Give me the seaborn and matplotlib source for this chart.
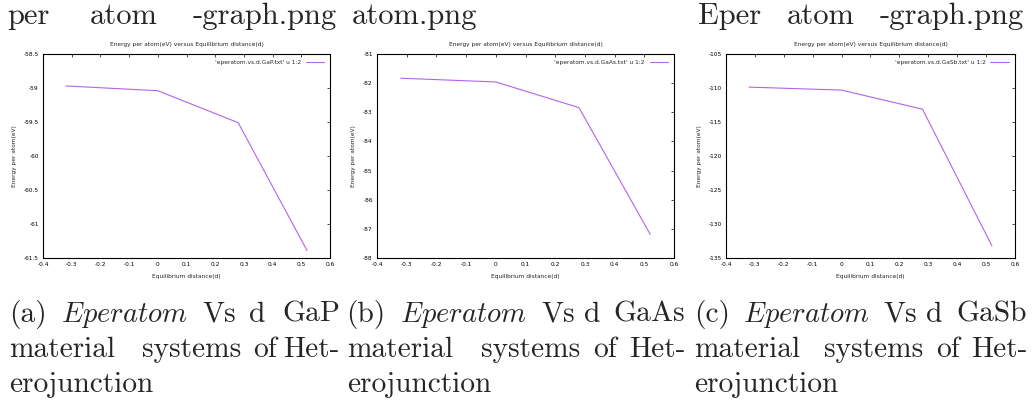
import numpy as np
import pandas as pd
import matplotlib
matplotlib.use("Agg")
import matplotlib.pyplot as plt
import seaborn as sns

# ---- data ----
distance_d = [-0.32, 0.0, 0.28, 0.52]
energy_gap = [-58.97, -59.04, -59.51, -61.39]
energy_gaas = [-81.83, -81.96, -82.84, -87.19]
energy_gasb = [-109.87, -110.31, -113.12, -133.2]
materials = ["GaP", "GaAs", "GaSb"]
panel_letters = ["a", "b", "c"]
x_ticks = [-0.4, -0.3, -0.2, -0.1, 0.0, 0.1, 0.2, 0.3, 0.4, 0.5, 0.6]
y_ticks_gap = [-61.5, -61, -60.5, -60, -59.5, -59, -58.5]
y_ticks_gaas = [-88, -87, -86, -85, -84, -83, -82, -81]
y_ticks_gasb = [-135, -130, -125, -120, -115, -110, -105]

sns.set_style("white")
plt.rcParams["font.family"] = ["DejaVu Sans"]
plt.rcParams["axes.unicode_minus"] = False
plt.rcParams["mathtext.fontset"] = "cm"

W, H = 1035, 405
fig = plt.figure(figsize=(W / 100, H / 100), dpi=100)

energies = [energy_gap, energy_gaas, energy_gasb]
yticks_all = [y_ticks_gap, y_ticks_gaas, y_ticks_gasb]
# axes boxes in pixels: left, right, top, bottom
boxes = [(43, 330, 54, 258), (377, 674, 54, 258), (726, 1015, 54, 258)]

FS = 4.2
for mat, en, yt, (l, r, t, b) in zip(materials, energies, yticks_all, boxes):
    ax = fig.add_axes([l / W, 1 - b / H, (r - l) / W, (b - t) / H])
    df = pd.DataFrame({"d": distance_d, "E": en})
    sns.lineplot(data=df, x="d", y="E", ax=ax, color="#b264ea", lw=0.8,
                 label=f"'eperatom.vs.d.{mat}.txt' u 1:2")
    ax.set_xlim(-0.4, 0.6)
    ax.set_ylim(yt[0], yt[-1])
    ax.set_xticks(x_ticks)
    ax.set_yticks(yt)
    ax.set_xticklabels([f"{v:g}" for v in x_ticks])
    ax.set_yticklabels([f"{v:g}" for v in yt])
    ax.tick_params(direction="in", length=2.5, width=0.5, top=True, right=True,
                   labelsize=FS, pad=3, colors="black")
    for s in ax.spines.values():
        s.set_linewidth(0.8)
        s.set_color("black")
    ax.set_title("Energy per atom(eV) versus Equilibrium distance(d)", fontsize=FS, pad=6)
    ax.set_xlabel("Equilibrium distance(d)", fontsize=FS, labelpad=5)
    ax.set_ylabel("Energy per atom(eV)", fontsize=FS, labelpad=5)
    ax.legend(loc="upper right", frameon=False, markerfirst=False, fontsize=FS,
              handlelength=3.2, borderaxespad=0.6, handletextpad=0.8)

# ---- LaTeX-like text around the figures ----
serif = "cmr10"
TOP = 22
TS = 21.2
MS = 20.5


def put(word, x, y, size=TS, ha="left"):
    fig.text(x / W, 1 - y / H, word, fontfamily=serif, fontsize=size,
             ha=ha, va="baseline")


top_words = [("per", 7), ("atom", 90), ("-graph.png", 193),
             ("atom.png", 352),
             ("Eper", 698), ("atom", 787), ("-graph.png", 880)]
for w, x in top_words:
    put(w, x, 24, TOP)

# caption word anchors (px): first word left edge, middle words centres, last word right edge
line1_x = [(9, 124, 219, 257.5, 340), (346, 463, 558, 592.5, 685), (694, 806, 900, 934, 1027)]
line2_x = [(9, 192, 265, 340), (347, 531, 605, 685), (694, 874, 948, 1027)]
for letter, mat, xs1, xs2 in zip(panel_letters, materials, line1_x, line2_x):
    words1 = [f"({letter})", "$Eperatom$", "Vs", "d", mat]
    n1 = len(words1)
    for i, (w, x) in enumerate(zip(words1, xs1)):
        ha = "left" if i == 0 else ("right" if i == n1 - 1 else "center")
        put(w, x, 322, MS if w.startswith("$") else TS, ha)
    words2 = ["material", "systems", "of", "Het-"]
    for i, (w, x) in enumerate(zip(words2, xs2)):
        ha = "left" if i == 0 else ("right" if i == len(words2) - 1 else "center")
        put(w, x, 357, TS, ha)
    put("erojunction", xs2[0], 392)

fig.savefig("out.png", dpi=100)
